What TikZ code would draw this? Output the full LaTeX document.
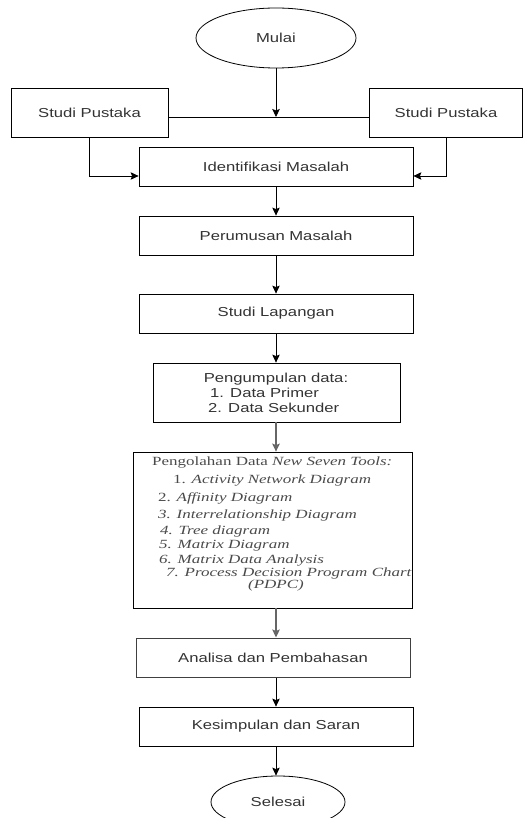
\documentclass[tikz,border=0pt]{standalone}
\usepackage{fontspec}
\usetikzlibrary{shapes.geometric,arrows.meta}
\newfontfamily\arl[FakeStretch=1.28]{Liberation Sans}
\newfontfamily\tms[FakeStretch=1.36]{Liberation Serif}
\definecolor{txt}{HTML}{333333}
\definecolor{gtxt}{HTML}{4A4A4A}
\definecolor{garr}{HTML}{666666}
\begin{document}
\begin{tikzpicture}[x=1pt,y=-1pt,
  box/.style={draw=black, line width=0.8pt, rectangle, inner sep=0pt,
    font=\arl\fontsize{13}{15}\selectfont, text=txt},
  oval/.style={draw=black, line width=0.8pt, ellipse, inner sep=0pt,
    font=\arl\fontsize{13}{15}\selectfont, text=txt},
  atxt/.style={inner sep=0pt, font=\arl\fontsize{13}{15}\selectfont, text=txt},
  ttxt/.style={inner sep=0pt, anchor=base west, font=\tms\fontsize{12.5}{14}\selectfont, text=gtxt},
  arr/.style={-{Stealth[length=8pt,width=7.5pt,inset=1.5pt]}, line width=0.8pt},
  garrow/.style={-{Stealth[length=8pt,width=7.5pt,inset=1.5pt]}, line width=1.3pt, draw=garr}]
\useasboundingbox (0,0) rectangle (524,818);

\node[oval, minimum width=160pt, minimum height=60pt] (mulai) at (276,38) {Mulai};
\node[box, minimum width=157pt, minimum height=49pt] (sp1) at (89.5,112.5) {Studi Pustaka};
\node[box, minimum width=153pt, minimum height=49pt] (sp2) at (446,112.5) {Studi Pustaka};
\node[box, minimum width=274pt, minimum height=39pt] (idm) at (276,166.5) {Identifikasi Masalah};
\node[box, minimum width=274pt, minimum height=39pt] (prm) at (276,235.5) {Perumusan Masalah};
\node[box, minimum width=274pt, minimum height=39pt] (slp) at (276,313.5) {Studi Lapangan};

\node[box, minimum width=247pt, minimum height=59pt] (pgd) at (276.5,392.5) {};
\node[atxt, anchor=base] (pgd0) at (276,382) {Pengumpulan data:};
\node[atxt, anchor=base west] (pgd1) at (210,397) {1. Data Primer};
\node[atxt, anchor=base west] (pgd2) at (208,412) {2. Data Sekunder};

\node[box, minimum width=279pt, minimum height=156pt] (pol) at (272.5,530) {};
\node[ttxt] (pol0) at (152,465) {Pengolahan Data \textit{New Seven Tools:}};
\node[ttxt] (pol1) at (173,483) {1. \textit{Activity Network Diagram}};
\node[ttxt] (pol2) at (158,501) {2. \textit{Affinity Diagram}};
\node[ttxt] (pol3) at (158,518) {\textit{3. Interrelationship Diagram}};
\node[ttxt] (pol4) at (160,534) {\textit{4. Tree diagram}};
\node[ttxt] (pol5) at (159,548) {\textit{5. Matrix Diagram}};
\node[ttxt] (pol6) at (159,563) {\textit{6. Matrix Data Analysis}};
\node[ttxt] (pol7) at (166,576) {\textit{7. Process Decision Program Chart}};
\node[ttxt, anchor=base] (pol8) at (276,588) {\textit{(PDPC)}};

\node[box, draw=black!75, line width=1pt, minimum width=274pt, minimum height=39pt] (anl) at (273,657.5) {Analisa dan Pembahasan};
\node[box, minimum width=274pt, minimum height=39pt] (ksp) at (276,726.5) {Kesimpulan dan Saran};
\node[oval, minimum width=134pt, minimum height=52pt] (sls) at (278,802) {Selesai};

\coordinate (jn) at (276,117);
\draw[line width=0.8pt] (sp1.east |- jn) -- (sp2.west |- jn);
\draw[arr] (mulai.south) -- (jn);
\draw[arr] (sp1.south) |- ([yshift=-9.5pt]idm.west);
\draw[arr] (sp2.south) |- ([yshift=-9.5pt]idm.east);
\draw[arr] (idm.south) -- (prm.north);
\draw[arr] (prm.south) -- (slp.north);
\draw[arr] (slp.south) -- (slp.south |- pgd.north);
\draw[garrow] (pgd.south -| slp.south) -- (slp.south |- pol.north);
\draw[garrow] (pol.south -| slp.south) -- (slp.south |- anl.north);
\draw[arr] (anl.south -| slp.south) -- (ksp.north);
\draw[arr] (ksp.south) -- (ksp.south |- sls.north);
\end{tikzpicture}
\end{document}
